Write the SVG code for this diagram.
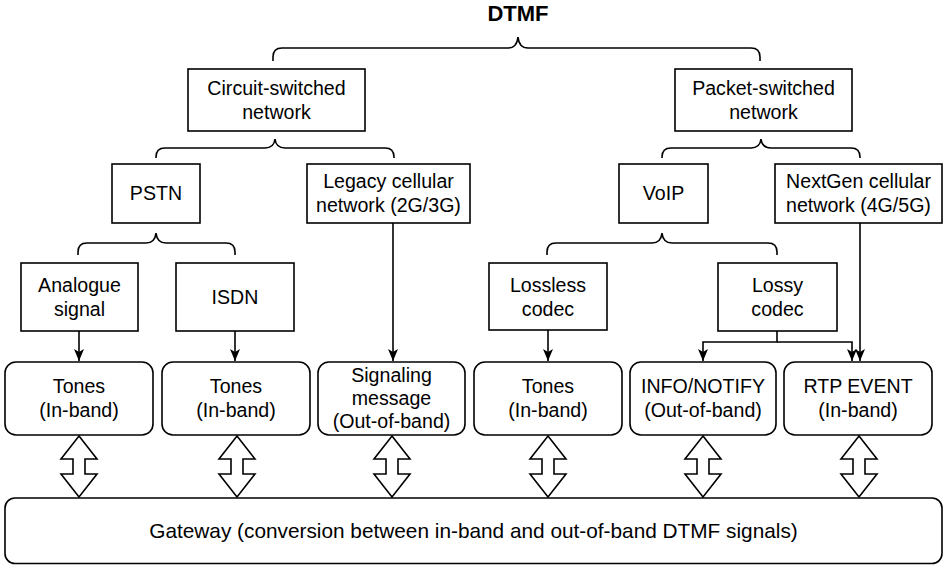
<svg xmlns="http://www.w3.org/2000/svg" width="945" height="565" viewBox="0 0 945 565">
<style>
.box{fill:#fff;stroke:#000;stroke-width:1.6}
.rbox{fill:#fff;stroke:#000;stroke-width:1.6}
.t{font-family:"Liberation Sans",Arial,sans-serif;font-size:19.6px;fill:#000;text-anchor:middle}
.g{font-size:20.8px}
.title{font-family:"Liberation Sans",Arial,sans-serif;font-size:22px;font-weight:bold;fill:#000;text-anchor:middle}
.brace{fill:none;stroke:#000;stroke-width:1.6}
.conn{fill:none;stroke:#000;stroke-width:1.6}
.dbl{fill:#fff;stroke:#000;stroke-width:1.6;stroke-linejoin:miter}
</style>
<defs>
<marker id="arr" viewBox="0 0 12 10" refX="12" refY="5" markerWidth="12" markerHeight="11" markerUnits="userSpaceOnUse" orient="auto">
<path d="M0,0 L12,5 L0,10 L3,5 Z" fill="#000"/>
</marker>
<path id="dblarrow" d="M0,436 L18,459 L6,459 L6,474 L18,474 L0,497 L-18,474 L-6,474 L-6,459 L-18,459 Z"/>
</defs>

<text class="title" x="518" y="21">DTMF</text>

<g id="braces">
<path class="brace" d="M273,61 V57 Q273,48 282,48 H508 Q517,48 518,37 Q519,48 528,48 H751 Q760,48 760,57 V61"/>
<path class="brace" d="M156,158 V157 Q156,148 165,148 H265 Q274,148 275,139 Q276,148 285,148 H385 Q394,148 394,157 V158"/>
<path class="brace" d="M662,158 V157 Q662,148 671,148 H751 Q760,148 761,139 Q762,148 771,148 H851 Q860,148 860,157 V158"/>
<path class="brace" d="M78,255 V252 Q78,243 87,243 H146 Q155,243 156,233 Q157,243 166,243 H226 Q235,243 235,252 V255"/>
<path class="brace" d="M547,255 V252 Q547,243 556,243 H652 Q661,243 662,233 Q663,243 672,243 H768 Q777,243 777,252 V255"/>
</g>

<g id="connectors">
<path class="conn" d="M79,331 V361" marker-end="url(#arr)"/>
<path class="conn" d="M235,331 V361" marker-end="url(#arr)"/>
<path class="conn" d="M393,223 V361" marker-end="url(#arr)"/>
<path class="conn" d="M548,330 V361" marker-end="url(#arr)"/>
<path class="conn" d="M777,331 V342 H703 V361" marker-end="url(#arr)"/>
<path class="conn" d="M777,342 H852 V361" marker-end="url(#arr)"/>
<path class="conn" d="M860,223 V361" marker-end="url(#arr)"/>
<use href="#dblarrow" class="dbl" x="79"/>
<use href="#dblarrow" class="dbl" x="237"/>
<use href="#dblarrow" class="dbl" x="392"/>
<use href="#dblarrow" class="dbl" x="548"/>
<use href="#dblarrow" class="dbl" x="703"/>
<use href="#dblarrow" class="dbl" x="859"/>
</g>

<g id="circuit">
<rect class="box" x="188" y="69" width="177" height="62"/>
<text class="t" x="276.5" y="95">Circuit-switched</text>
<text class="t" x="276.5" y="119">network</text>
</g>
<g id="packet">
<rect class="box" x="675" y="69" width="177" height="62"/>
<text class="t" x="763.5" y="95">Packet-switched</text>
<text class="t" x="763.5" y="119">network</text>
</g>

<g id="pstn">
<rect class="box" x="112" y="164" width="88" height="59"/>
<text class="t" x="156" y="200">PSTN</text>
</g>
<g id="legacy">
<rect class="box" x="307" y="164" width="163" height="59"/>
<text class="t" x="388.5" y="188">Legacy cellular</text>
<text class="t" x="388.5" y="212">network (2G/3G)</text>
</g>
<g id="voip">
<rect class="box" x="619" y="164" width="89" height="59"/>
<text class="t" x="663.5" y="200">VoIP</text>
</g>
<g id="nextgen">
<rect class="box" x="775" y="164" width="167" height="59"/>
<text class="t" x="858.5" y="188">NextGen cellular</text>
<text class="t" x="858.5" y="212">network (4G/5G)</text>
</g>

<g id="analogue">
<rect class="box" x="21" y="263" width="117" height="68"/>
<text class="t" x="79.5" y="292">Analogue</text>
<text class="t" x="79.5" y="316">signal</text>
</g>
<g id="isdn">
<rect class="box" x="176" y="263" width="118" height="68"/>
<text class="t" x="235" y="304">ISDN</text>
</g>
<g id="lossless">
<rect class="box" x="489" y="263" width="118" height="67"/>
<text class="t" x="548" y="292">Lossless</text>
<text class="t" x="548" y="316">codec</text>
</g>
<g id="lossy">
<rect class="box" x="718" y="263" width="119" height="68"/>
<text class="t" x="777.5" y="292">Lossy</text>
<text class="t" x="777.5" y="316">codec</text>
</g>

<g id="tones1">
<rect class="rbox" x="5" y="362" width="148" height="73" rx="11"/>
<text class="t" x="79" y="393">Tones</text>
<text class="t" x="79" y="417">(In-band)</text>
</g>
<g id="tones2">
<rect class="rbox" x="162" y="362" width="148" height="73" rx="11"/>
<text class="t" x="236" y="393">Tones</text>
<text class="t" x="236" y="417">(In-band)</text>
</g>
<g id="signaling">
<rect class="rbox" x="318" y="362" width="147" height="73" rx="11"/>
<text class="t" x="391.5" y="382">Signaling</text>
<text class="t" x="391.5" y="405">message</text>
<text class="t" x="391.5" y="428">(Out-of-band)</text>
</g>
<g id="tones3">
<rect class="rbox" x="474" y="362" width="148" height="73" rx="11"/>
<text class="t" x="548" y="393">Tones</text>
<text class="t" x="548" y="417">(In-band)</text>
</g>
<g id="info">
<rect class="rbox" x="630" y="362" width="146" height="73" rx="11"/>
<text class="t" x="703" y="393">INFO/NOTIFY</text>
<text class="t" x="703" y="417">(Out-of-band)</text>
</g>
<g id="rtp">
<rect class="rbox" x="784" y="362" width="148" height="73" rx="11"/>
<text class="t" x="858" y="393">RTP EVENT</text>
<text class="t" x="858" y="417">(In-band)</text>
</g>

<g id="gateway">
<rect class="rbox" x="5" y="498" width="937" height="65.5" rx="10"/>
<text class="t g" x="473.5" y="538">Gateway (conversion between in-band and out-of-band DTMF signals)</text>
</g>
</svg>
